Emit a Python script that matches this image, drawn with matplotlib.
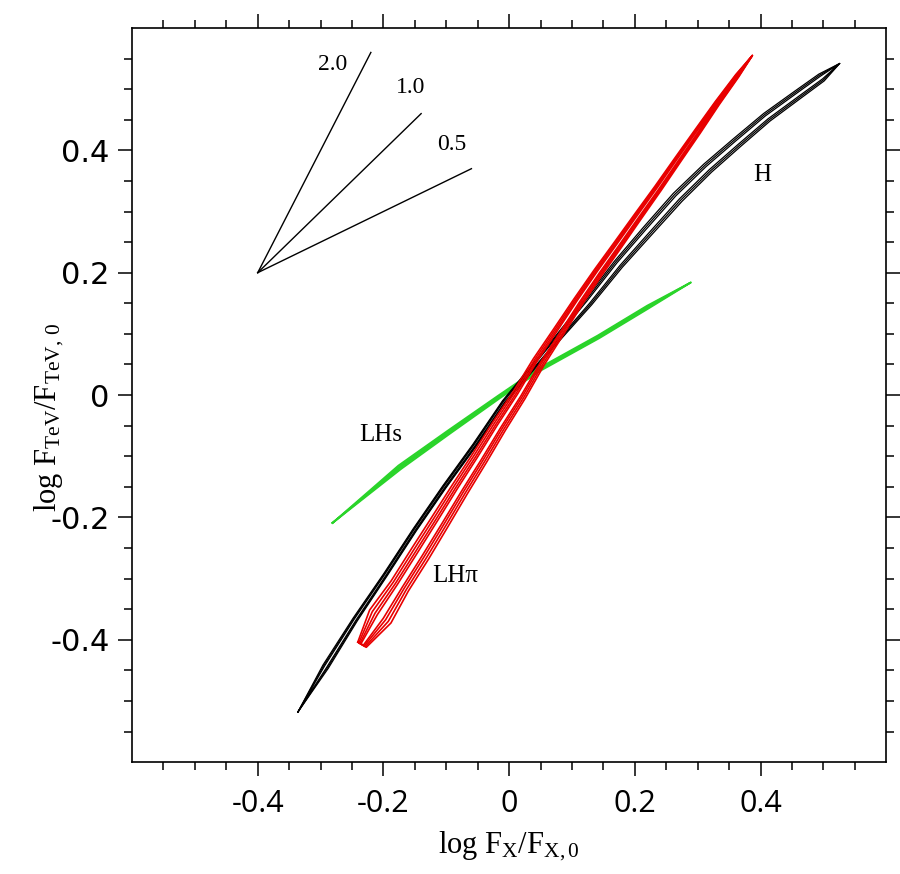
import numpy as np
import matplotlib
matplotlib.use("Agg")
import matplotlib.pyplot as plt
from matplotlib import font_manager
from matplotlib.ticker import FixedLocator, FuncFormatter

# ---- ridge tracks of the three populations in the log-flux plane ----
# H population (black): centre line and half-width of the outer contour
h_x = [-0.336, -0.292, -0.245, -0.197, -0.150, -0.103, -0.055, -0.008, 0.032, 0.079,
       0.126, 0.174, 0.221, 0.268, 0.316, 0.363, 0.410, 0.458, 0.497, 0.526]
h_y = [-0.518, -0.444, -0.367, -0.294, -0.220, -0.150, -0.082, -0.011, 0.038, 0.095,
       0.152, 0.214, 0.269, 0.323, 0.371, 0.413, 0.454, 0.490, 0.519, 0.542]
h_hw = [0.000, 0.005, 0.004, 0.0032, 0.003, 0.003, 0.003, 0.003, 0.0035, 0.005,
        0.007, 0.008, 0.009, 0.0095, 0.009, 0.0085, 0.008, 0.0075, 0.007, 0.000]

# LH pi population (red)
lhpi_x = [-0.234, -0.205, -0.174, -0.142, -0.110, -0.079, -0.047, -0.016, 0.016, 0.047,
          0.079, 0.110, 0.142, 0.174, 0.205, 0.237, 0.268, 0.300, 0.331, 0.363, 0.387]
lhpi_y = [-0.408, -0.362, -0.312, -0.260, -0.207, -0.155, -0.103, -0.051, 0.000, 0.054,
          0.104, 0.153, 0.201, 0.247, 0.292, 0.338, 0.384, 0.431, 0.477, 0.522, 0.555]
lhpi_hw = [0.008, 0.020, 0.016, 0.016, 0.015, 0.014, 0.013, 0.012, 0.011, 0.010,
           0.009, 0.008, 0.0075, 0.007, 0.0065, 0.006, 0.0055, 0.005, 0.004, 0.003, 0.000]

# LH s population (green)
lhs_x = [-0.281, -0.174, -0.095, -0.016, 0.047, 0.142, 0.221, 0.289]
lhs_y = [-0.209, -0.118, -0.060, -0.003, 0.041, 0.095, 0.144, 0.184]
lhs_hw = [0.000, 0.0035, 0.003, 0.0025, 0.0025, 0.0025, 0.0025, 0.000]

# reference slopes drawn from a common anchor
slope_values = [2.0, 1.0, 0.5]
slope_dx = [0.18, 0.26, 0.34]
slope_labels = ["2.0", "1.0", "0.5"]
slope_anchor = (-0.4, 0.2)

pop_labels = ["H", "LHs", "LH\u03c0"]

major_ticks = [-0.4, -0.2, 0.0, 0.2, 0.4]
minor_ticks = [v / 100 for v in range(-55, 60, 5) if v % 20 != 0]

# ---- fonts ----
names = {f.name for f in font_manager.fontManager.ttflist}
xtick_font = "Liberation Sans Narrow" if "Liberation Sans Narrow" in names else "Open Sans"
serif = "Liberation Serif"
plt.rcParams["axes.unicode_minus"] = False
plt.rcParams["mathtext.fontset"] = "custom"
plt.rcParams["mathtext.rm"] = serif
plt.rcParams["mathtext.it"] = serif + ":italic"


def contour_ring(x, y, hw, frac):
    """Closed outline around a ridge line at a fraction of its half-width."""
    x = np.asarray(x, float)
    y = np.asarray(y, float)
    w = np.asarray(hw, float) * frac
    dx = np.gradient(x)
    dy = np.gradient(y)
    n = np.hypot(dx, dy)
    nx, ny = -dy / n, dx / n
    ux, uy = x + nx * w, y + ny * w
    lx, ly = x - nx * w, y - ny * w
    rx = np.concatenate([ux, lx[::-1], ux[:1]])
    ry = np.concatenate([uy, ly[::-1], uy[:1]])
    return rx, ry


fig = plt.figure(figsize=(9.0, 8.74), dpi=100)
ax = fig.add_axes([0.1467, 0.128, 0.838, 0.840])

# green population
for f in [1.0, 0.4]:
    rx, ry = contour_ring(lhs_x, lhs_y, lhs_hw, f)
    ax.plot(rx, ry, color="#2ad42a", lw=1.3)

# black population
for f in [1.0, 0.7, 0.4]:
    rx, ry = contour_ring(h_x, h_y, h_hw, f)
    ax.plot(rx, ry, color="black", lw=0.9)

# red population
for f in [1.0, 0.75, 0.5, 0.28]:
    rx, ry = contour_ring(lhpi_x, lhpi_y, lhpi_hw, f)
    ax.plot(rx, ry, color="#e80000", lw=1.2)

# reference slope lines
x0, y0 = slope_anchor
for s, d in zip(slope_values, slope_dx):
    ax.plot([x0, x0 + d], [y0, y0 + s * d], color="black", lw=1.0)

for txt, (tx, ty) in zip(slope_labels, [(-0.281, 0.540), (-0.157, 0.503), (-0.091, 0.410)]):
    ax.text(tx, ty, txt, fontsize=17, family=serif, ha="center", va="center")

for txt, (tx, ty) in zip(pop_labels, [(0.403, 0.360), (-0.205, -0.065), (-0.085, -0.296)]):
    ax.text(tx, ty, txt, fontsize=18, family=serif, ha="center", va="center")

# axes
ax.set_xlim(-0.6, 0.6)
ax.set_ylim(-0.6, 0.6)
for axis in (ax.xaxis, ax.yaxis):
    axis.set_major_locator(FixedLocator(major_ticks))
    axis.set_minor_locator(FixedLocator(minor_ticks))
    axis.set_major_formatter(FuncFormatter(lambda v, p: "0" if abs(v) < 1e-9 else f"{v:.1f}"))

ax.tick_params(which="both", direction="out", top=True, right=True,
               labeltop=False, labelright=False, width=1.1, color="black")
ax.tick_params(which="major", length=10)
ax.tick_params(which="minor", length=6)
ax.tick_params(axis="x", which="major", pad=9)
ax.tick_params(axis="y", which="major", pad=6)
for lab in ax.get_xticklabels():
    lab.set_family(xtick_font)
    lab.set_fontsize(22)
for lab in ax.get_yticklabels():
    lab.set_family("DejaVu Sans")
    lab.set_fontsize(22)
for sp in ax.spines.values():
    sp.set_linewidth(1.2)

ax.set_xlabel(r"log F$_{\mathrm{X}}$/F$_{\mathrm{X,0}}$", family=serif, fontsize=22, labelpad=8)
ax.set_ylabel(r"log F$_{\mathrm{TeV}}$/F$_{\mathrm{TeV,\,0}}$", family=serif, fontsize=22)
ax.yaxis.set_label_coords(-0.088, 0.47)

fig.savefig("out.png", dpi=100, facecolor="white")
